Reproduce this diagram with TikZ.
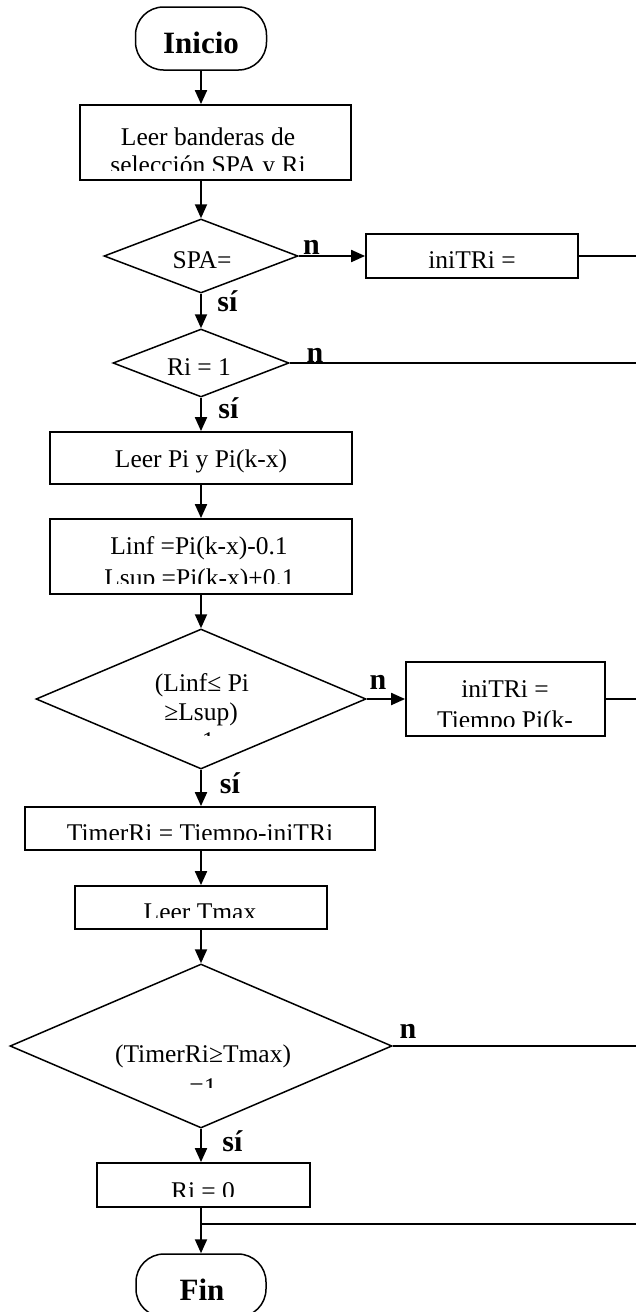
\documentclass[tikz,border=0pt]{standalone}
\usepackage{fontspec}
\setmainfont{Liberation Serif}
\usetikzlibrary{arrows.meta,shapes.geometric}
\tikzset{
	caja/.style={draw, line width=1.8pt, inner sep=0pt},
	rombo/.style={draw, diamond, line width=1.5pt, inner sep=0pt},
	term/.style={draw, rounded corners=28pt, line width=1.5pt, inner sep=0pt},
	txt/.style={font=\fontsize{25.5}{29}\selectfont, anchor=base, inner sep=0pt},
	lab/.style={font=\bfseries\fontsize{30}{30}\selectfont, anchor=base, inner sep=0pt},
	flecha/.style={line width=2pt, -{Triangle[length=14pt,width=12pt]}},
	linea/.style={line width=1.5pt}
}
\def\cuttext(#1)(#2)[#3]#4{\begin{scope}\clip (0,0) rectangle (636,#3); \node[txt] (#1) at (#2) {#4}; \end{scope}}

\begin{document}
\begin{tikzpicture}[x=1pt, y=-1pt]
			%%%%% START %%%%%
			\useasboundingbox (0,0) rectangle (636,1312);
			\coordinate (borde) at (636,0);
			
			\node[term, minimum width=131pt, minimum height=63pt] (inicio) at (201,38.5) {};
			\node[lab, font=\bfseries\fontsize{31}{31}\selectfont] (tinicio) at (201,53) {Inicio};
			
			\node[caja, minimum width=271pt, minimum height=75pt] (leer) at (215.5,142.5) {};
			\node[txt] (tleer1) at (208,145) {Leer banderas de};
			\cuttext(tleer2)(208,173)[170]{selección SPA y Ri}
			
			\node[rombo, minimum width=194pt, minimum height=74pt] (spa) at (201,256) {};
			\node[txt] (tspa) at (202,268) {SPA=};
			\node[caja, minimum width=212pt, minimum height=44pt] (ini1) at (472,256) {};
			\node[txt] (tini1) at (472,268) {iniTRi =};
			
			\node[rombo, minimum width=176pt, minimum height=68pt] (ri1) at (201,363) {};
			\node[txt] (tri1) at (199,375) {Ri = 1};
			
			\node[caja, minimum width=302pt, minimum height=52pt] (leerpi) at (201,458) {};
			\node[txt] (tleerpi) at (201,467) {Leer Pi y Pi(k-x)};
			
			\node[caja, minimum width=302pt, minimum height=75pt] (limites) at (201,556.5) {};
			\node[txt] (tlim1) at (199,554) {Linf =Pi(k-x)-0.1};
			\cuttext(tlim2)(199.5,586)[583]{Lsup =Pi(k-x)+0.1}
			
			\node[rombo, minimum width=330pt, minimum height=140pt] (rango) at (201,699) {};
			\node[txt] (trango1) at (202,691) {(Linf≤ Pi};
			\node[txt] (trango2) at (201,720) {≥Lsup)};
			\cuttext(trango3)(201,749)[735]{=1}
			\node[caja, minimum width=199pt, minimum height=74pt] (ini2) at (505.5,699) {};
			\node[txt] (tini21) at (505,697) {iniTRi =};
			\cuttext(tini22)(505,728.5)[726]{Tiempo Pi(k-}
			
			\node[caja, minimum width=350pt, minimum height=43pt] (timer) at (200,828.5) {};
			\cuttext(ttimer)(200,841.5)[839]{TimerRi = Tiempo-iniTRi}
			
			\node[caja, minimum width=252pt, minimum height=43pt] (tmax) at (201,907.5) {};
			\cuttext(ttmax)(200,920)[917]{Leer Tmax}
			
			\node[rombo, minimum width=382pt, minimum height=164pt] (cmp) at (201,1046) {};
			\node[txt] (tcmp1) at (203,1062) {(TimerRi≥Tmax)};
			\cuttext(tcmp2)(203,1095)[1087]{=1}
			
			\node[caja, minimum width=213pt, minimum height=44pt] (ri0) at (203.5,1185) {};
			\cuttext(tri0)(203,1199)[1196]{Ri = 0}
			
			\node[term, minimum width=130pt, minimum height=63pt] (fin) at (201,1285.5) {};
			\node[lab, font=\bfseries\fontsize{31}{31}\selectfont] (tfin) at (202,1300) {Fin};
			
			% etiquetas
			\node[lab] (n1) at (311.5,254) {n};
			\node[lab] (si1) at (227.5,311) {sí};
			\node[lab] (n2) at (315,362) {n};
			\node[lab] (si2) at (228.5,418) {sí};
			\node[lab] (n3) at (378,689) {n};
			\node[lab] (si3) at (230,793) {sí};
			\node[lab] (n4) at (408,1038) {n};
			\node[lab] (si4) at (232.5,1151) {sí};
			
			% flechas
			\draw[flecha] (inicio.south) -- (inicio.south |- leer.north);
			\draw[flecha] (spa.north |- leer.south) -- (spa.north);
			\draw[flecha] (spa.east) -- (ini1.west);
			\draw[linea] (ini1.east) -- (ini1.east -| borde);
			\draw[flecha] (spa.south) -- (ri1.north);
			\draw[linea] (ri1.east) -- (ri1.east -| borde);
			\draw[flecha] (ri1.south) -- (leerpi.north);
			\draw[flecha] (leerpi.south) -- (limites.north);
			\draw[flecha] (limites.south) -- (rango.north);
			\draw[flecha] (rango.east) -- (ini2.west);
			\draw[linea] (ini2.east) -- (ini2.east -| borde);
			\draw[flecha] (rango.south) -- (rango.south |- timer.north);
			\draw[flecha] (rango.south |- timer.south) -- (rango.south |- tmax.north);
			\draw[flecha] (tmax.south) -- (cmp.north);
			\draw[linea] (cmp.east) -- (cmp.east -| borde);
			\draw[flecha] (cmp.south) -- (cmp.south |- ri0.north);
			\draw[flecha] (cmp.south |- ri0.south) -- (fin.north);
			\coordinate (union) at (201,1224);
			\draw[linea] (union) -- (union -| borde);
			%%%%% END %%%%%
\end{tikzpicture}
\end{document}
